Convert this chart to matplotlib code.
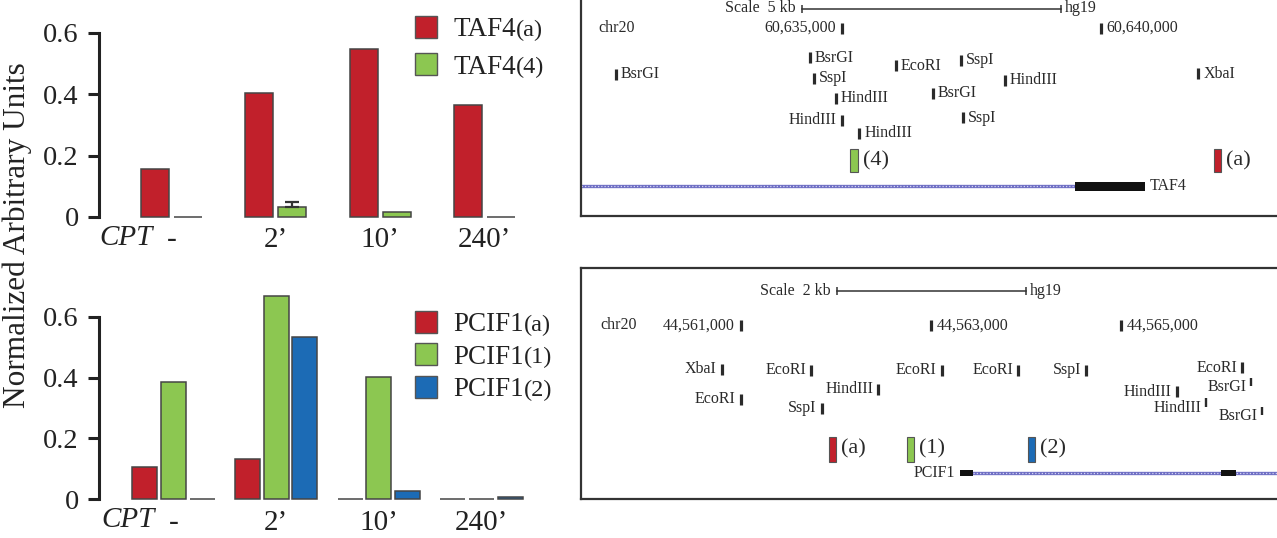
import numpy as np
import matplotlib
matplotlib.use("Agg")
import matplotlib.pyplot as plt
from matplotlib.patches import Rectangle
from matplotlib.text import Annotation

plt.rcParams['font.family'] = ['Liberation Serif', 'DejaVu Serif']

W, H = 1277, 538
PT = 0.72  # points per pixel at dpi 100

RED = '#c1202b'
GREEN = '#8cc751'
BLUE = '#1c6bb5'
EDGE = '#454545'
INK = '#2a2a2a'

# ---- qPCR bars (CPT time course)
time_labels = ['-', '2\u2019', '10\u2019', '240\u2019']
taf4_a = [0.157, 0.404, 0.549, 0.365]
taf4_4 = [0.0, 0.033, 0.015, 0.0]
taf4_4_err = [0.0, 0.016, 0.0, 0.0]
pcif1_a = [0.107, 0.134, 0.0, 0.0]
pcif1_1 = [0.386, 0.668, 0.402, 0.0]
pcif1_2 = [0.0, 0.534, 0.028, 0.006]

# ---- TAF4 locus, chr20 (hg19)
taf4_coord_ticks = [60635000, 60640000]
taf4_enzymes = ['BsrGI', 'BsrGI', 'SspI', 'HindIII', 'HindIII', 'HindIII',
                'EcoRI', 'BsrGI', 'SspI', 'SspI', 'HindIII', 'XbaI']
taf4_cuts = [60630637, 60634388, 60634459, 60634884, 60635000, 60635340,
             60636048, 60636763, 60637303, 60637336, 60638153, 60641884]
taf4_probes = ['(4)', '(a)']
taf4_probe_start = [60635160, 60642187]
taf4_probe_end = [60635309, 60642317]
taf4_exon = (60639504, 60640855)
taf4_scale = (60634234, 60639234)

# ---- PCIF1 locus, chr20 (hg19)
pcif1_coord_ticks = [44561000, 44563000, 44565000]
pcif1_enzymes = ['XbaI', 'EcoRI', 'EcoRI', 'SspI', 'HindIII', 'EcoRI', 'EcoRI',
                 'SspI', 'HindIII', 'HindIII', 'EcoRI', 'BsrGI', 'BsrGI']
pcif1_cuts = [44560800, 44561000, 44561740, 44561853, 44562449, 44563117, 44563924,
              44564637, 44565592, 44565897, 44566283, 44566374, 44566487]
pcif1_probes = ['(a)', '(1)', '(2)']
pcif1_probe_start = [44561933, 44562755, 44564023]
pcif1_probe_end = [44562000, 44562828, 44564100]
pcif1_exon_start = [44563310, 44566055]
pcif1_exon_end = [44563447, 44566216]
pcif1_gene_end = 44568500
pcif1_scale = (44562011, 44564005)

# track layout (pixel rows inside the browser boxes)
taf4_rows = [74, 57.5, 78.5, 98, 120.5, 133, 65.5, 93, 60.5, 117.5, 80.5, 73.5]
taf4_sides = [1, 1, 1, 1, -1, 1, 1, 1, 1, 1, 1, 1]
pcif1_rows = [369, 399, 370, 408.5, 389, 370, 370, 370, 391.5, 407.7, 367.5, 387, 416]
pcif1_raised = [0, 0, 0, 0, 0, 0, 0, 0, 0, 1, 0, 1, 1]

fig = plt.figure(figsize=(W / 100, H / 100), dpi=100)


def add_px_axes(left, top, right, bottom):
    return fig.add_axes([left / W, 1 - bottom / H, (right - left) / W, (bottom - top) / H])


def bar_panel(ax, series, colors, offsets, width, errs):
    x = np.arange(len(time_labels))
    for vals, col, off, err in zip(series, colors, offsets, errs):
        ax.bar(x + off, vals, width, color=col, edgecolor=EDGE, linewidth=1.1, clip_on=False)
        if err is not None:
            idx = [i for i, e in enumerate(err) if e > 0]
            ax.errorbar(x[idx] + off, np.array(vals)[idx],
                        yerr=[np.zeros(len(idx)), np.array(err)[idx]],
                        fmt='none', ecolor='#333333', elinewidth=1.6, capsize=5, capthick=1.6)
    for s in ['top', 'right', 'bottom']:
        ax.spines[s].set_visible(False)
    ax.spines['left'].set_bounds(0, 0.6)
    ax.spines['left'].set_linewidth(2.2)
    ax.spines['left'].set_color('#222222')
    ax.set_yticks([0, 0.2, 0.4, 0.6], labels=['0', '0.2', '0.4', '0.6'])
    ax.tick_params(axis='y', length=8, width=2.2, color='#222222', pad=6.5,
                   labelsize=20.5, labelcolor='#222222')
    ax.set_xticks(x, labels=time_labels)
    ax.tick_params(axis='x', length=0, pad=3, labelsize=21, labelcolor='#222222')
    ax.annotate('CPT', xy=(0, 0), xycoords=ax.get_xaxis_transform(), xytext=(-19 * PT, -1),
                textcoords='offset points', ha='right', va='top', fontsize=21,
                fontstyle='italic', color='#222222')
    ax.patch.set_visible(False)


def legend(x_px, y_centers, colors, names, subs):
    for y, col, name, sub in zip(y_centers, colors, names, subs):
        fig.add_artist(Rectangle((415 / W, 1 - (y + 11) / H), 22 / W, 22 / H,
                                 transform=fig.transFigure, facecolor=col,
                                 edgecolor='#555555', linewidth=1.0))
        t = fig.text(x_px / W, 1 - (y + 9.5) / H, name, fontsize=19.5, va='baseline',
                     ha='left', color='#222222')
        fig.add_artist(Annotation(
            sub, xy=(1, 0), xycoords=t, xytext=(0.5, 1), textcoords='offset points',
            ha='left', va='bottom', fontsize=17.5, color='#222222'))


# ---------------- bar charts ----------------
ax1 = add_px_axes(99, 217 - 0.69 * 306.7, 560, 217 + 0.02 * 306.7)
ax1.set_ylim(-0.02, 0.69)
ax1.set_xlim(-0.695, 3.725)
bar_panel(ax1, [taf4_a, taf4_4], [RED, GREEN], [-0.158, 0.158], 0.268, [None, taf4_4_err])
legend(453, [27, 64], [RED, GREEN], ['TAF4', 'TAF4'], ['(a)', '(4)'])

ax2 = add_px_axes(99, 499.3 - 0.72 * 304.3, 560, 499.3 + 0.02 * 304.3)
ax2.set_ylim(-0.02, 0.72)
ax2.set_xlim(-0.725, 3.764)
bar_panel(ax2, [pcif1_a, pcif1_1, pcif1_2], [RED, GREEN, BLUE], [-0.28, 0.0, 0.28], 0.245,
          [None, None, None])
legend(453, [321.5, 354, 386.5], [RED, GREEN, BLUE], ['PCIF1'] * 3, ['(a)', '(1)', '(2)'])

fig.text(17 / W, 1 - 235 / H, 'Normalized Arbitrary Units', rotation=90, ha='center',
         va='center', fontsize=22.5, color='#222222')


# ---------------- genome browser panels ----------------
def browser_frame(ax, xlim, ylim):
    ax.set_xlim(*xlim)
    ax.set_ylim(*ylim)
    ax.set_xticks([])
    ax.set_yticks([])
    for s in ax.spines.values():
        s.set_linewidth(1.6)
        s.set_color('#333333')


def label(ax, text, x, y, dx_px, size=11.5, ha='left', dy_px=0):
    ax.annotate(text, xy=(x, y), xytext=(dx_px * PT, -dy_px * PT), textcoords='offset points',
                ha=ha, va='center', fontsize=size, color=INK)


def scale_bar(ax, span, y, kb_text):
    s, e = span
    ax.plot([s, e], [y, y], color='#333333', lw=1.1)
    ax.vlines([s, e], y - 4, y + 4, color='#333333', lw=1.1)
    label(ax, 'Scale  ' + kb_text, s, y, -6, size=11.5, ha='right')
    label(ax, 'hg19', e, y, 4, size=11.5)


def sites(ax, cuts, names, rows, sides, raised):
    for x, n, y, sd, r in zip(cuts, names, rows, sides, raised):
        if r:
            ax.vlines(x, y - 9.5, y - 1, color=INK, lw=1.7)
            label(ax, n, x, y, -4, ha='right')
        else:
            ax.vlines(x, y - 5.5, y + 5.5, color=INK, lw=2.3)
            label(ax, n, x, y, 5 * sd, ha='left' if sd > 0 else 'right')


def probes(ax, starts, ends, names, colors, top, height):
    for s, e, n, c in zip(starts, ends, names, colors):
        ax.bar(s, height, width=e - s, bottom=top, align='edge', color=c,
               edgecolor='#555555', linewidth=0.8)
        label(ax, n, e, top + height / 2, 5, size=16)


def intron(ax, a, b, y):
    ax.plot([a, b], [y, y], color='#6f6fc4', lw=2.4, solid_capstyle='butt', zorder=2)
    ax.plot([a, b], [y, y], color='#d4d4f2', lw=0.9, ls=(0, (1, 1.6)), zorder=2)


# TAF4 locus
gx1 = add_px_axes(581, -40, 1400, 216)
browser_frame(gx1, (60629967, 60645778), (216, -40))
scale_bar(gx1, taf4_scale, 8.5, '5 kb')
gx1.annotate('chr20', xy=(0, 28), xycoords=('axes fraction', 'data'), xytext=(17 * PT, 0),
             textcoords='offset points', ha='left', va='center', fontsize=11.5, color=INK)
gx1.vlines(taf4_coord_ticks, 22.5, 33.5, color=INK, lw=2.3)
label(gx1, f'{taf4_coord_ticks[0]:,}', taf4_coord_ticks[0], 28, -6, ha='right')
label(gx1, f'{taf4_coord_ticks[1]:,}', taf4_coord_ticks[1], 28, 6)
sites(gx1, taf4_cuts, taf4_enzymes, taf4_rows, taf4_sides, [0] * len(taf4_cuts))
probes(gx1, taf4_probe_start, taf4_probe_end, taf4_probes, [GREEN, RED], 149, 23)
intron(gx1, 60629900, taf4_exon[0], 186)
gx1.bar(taf4_exon[0], 9, width=taf4_exon[1] - taf4_exon[0], bottom=181.5, align='edge',
        color='#111111', linewidth=0, zorder=3)
label(gx1, 'TAF4', taf4_exon[1], 186.5, 5, size=11.5)

# PCIF1 locus
gx2 = add_px_axes(581, 268.3, 1400, 499.3)
browser_frame(gx2, (44559318, 44567943), (499.3, 268.3))
scale_bar(gx2, pcif1_scale, 291, '2 kb')
gx2.annotate('chr20', xy=(0, 325), xycoords=('axes fraction', 'data'), xytext=(19 * PT, 0),
             textcoords='offset points', ha='left', va='center', fontsize=11.5, color=INK)
gx2.vlines(pcif1_coord_ticks, 320, 331, color=INK, lw=2.3)
for i, t in enumerate(pcif1_coord_ticks):
    if i == 0:
        label(gx2, f'{t:,}', t, 325.5, -6, ha='right')
    else:
        label(gx2, f'{t:,}', t, 325.5, 6)
sites(gx2, pcif1_cuts, pcif1_enzymes, pcif1_rows, [-1] * len(pcif1_cuts), pcif1_raised)
probes(gx2, pcif1_probe_start, pcif1_probe_end, pcif1_probes, [RED, GREEN, BLUE], 436.7, 25)
intron(gx2, pcif1_exon_start[0], pcif1_gene_end, 472.7)
for s, e in zip(pcif1_exon_start, pcif1_exon_end):
    gx2.bar(s, 6, width=e - s, bottom=469.7, align='edge', color='#111111', linewidth=0,
            zorder=3)
label(gx2, 'PCIF1', pcif1_exon_start[0], 472.7, -5, ha='right')

fig.savefig('out.png', dpi=100)
